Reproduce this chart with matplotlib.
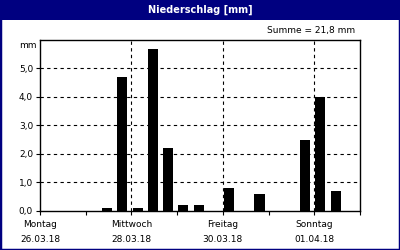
import matplotlib
matplotlib.use("Agg")
import matplotlib.pyplot as plt
from matplotlib.patches import Rectangle

# data: precipitation per 8-hour slot (3 per day), 7 days starting Montag 26.03.18
values = [0, 0, 0, 0, 0.1, 4.7, 0.1, 5.7, 2.2, 0.2, 0.2, 0, 0.8, 0, 0.6, 0, 0, 2.5, 4.0, 0.7, 0]
day_labels = ["Montag\n26.03.18", "", "Mittwoch\n28.03.18", "", "Freitag\n30.03.18", "", "Sonntag\n01.04.18", ""]
y_ticks = [0, 1, 2, 3, 4, 5]
y_labels = ["0,0", "1,0", "2,0", "3,0", "4,0", "5,0"]
title = "Niederschlag [mm]"
summe = "Summe = 21,8 mm"

navy = "#000080"
fig = plt.figure(figsize=(4, 2.5), dpi=100)
fig.patch.set_facecolor("white")
# frame and title bar
fig.patches.append(Rectangle((0, 0), 1, 1, transform=fig.transFigure, fill=False,
                             edgecolor=navy, linewidth=2.5, zorder=0))
fig.patches.append(Rectangle((0, 1 - 20 / 250), 1, 20 / 250, transform=fig.transFigure,
                             facecolor=navy, edgecolor="none", zorder=1))
fig.text(0.5, 1 - 10 / 250, title, color="white", fontsize=7, fontweight="bold",
         ha="center", va="center")
fig.text(355 / 400, 1 - 31 / 250, summe, fontsize=6.5, ha="right", va="center")

ax = fig.add_axes([40 / 400, 39.3 / 250, 320 / 400, 170.7 / 250])
n = len(values)
xs = [i / 3 + 0.025 for i in range(n)]
ax.bar(xs, values, width=0.22, align="edge", color="black", zorder=3)
ax.set_xlim(0, 7)
ax.set_ylim(0, 6)
ax.set_yticks(y_ticks)
ax.set_yticklabels(y_labels, fontsize=6.5)
ax.set_xticks(range(8))
ax.set_xticklabels(day_labels, fontsize=6.5, linespacing=1.8)
ax.tick_params(axis="both", direction="out", length=3, width=0.8, pad=2)
ax.tick_params(axis="x", pad=4)
for y in y_ticks[1:]:
    ax.axhline(y, color="black", linestyle=(0, (3, 3)), linewidth=0.8, zorder=2)
for x in [2, 4, 6]:
    ax.axvline(x, color="black", linestyle=(0, (3, 3)), linewidth=0.8, zorder=2)
for s in ax.spines.values():
    s.set_linewidth(1)
ax.text(-0.01, 5.82, "mm", transform=ax.get_yaxis_transform(), fontsize=6.5,
        ha="right", va="center")
fig.savefig("out.png", dpi=100)
